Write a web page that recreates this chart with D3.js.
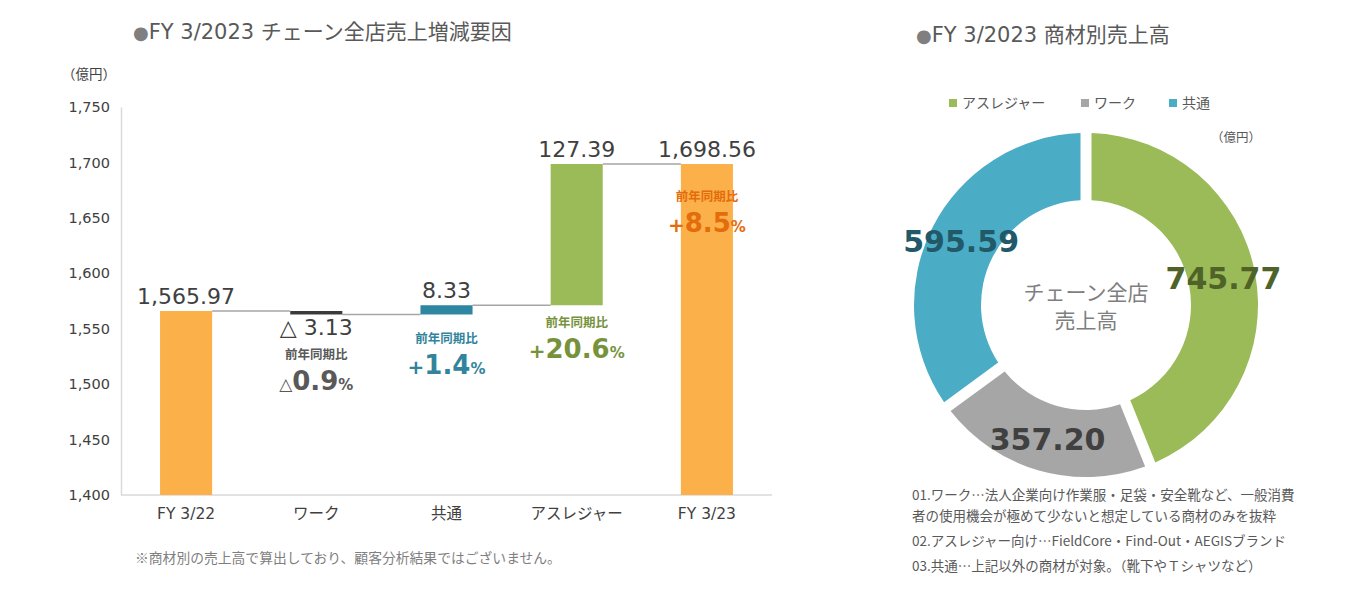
<!DOCTYPE html>
<html><head><meta charset="utf-8">
<script src="https://cdn.jsdelivr.net/npm/d3@7"></script>
<style>
body{margin:0;background:#fff;}
text{font-family:"DejaVu Sans","Noto Sans CJK JP",sans-serif;}
.jp{font-family:"Noto Sans CJK JP","Noto Sans",sans-serif;}
</style></head>
<body>
<svg id="c" width="1354" height="591"></svg>
<script>
// ---- data ----
const categories = ["FY 3/22","ワーク","共通","アスレジャー","FY 3/23"];
const changes = [1565.97, -3.13, 8.33, 127.39, 1698.56]; // first/last are totals
const valueLabels = ["1,565.97","△ 3.13","8.33","127.39","1,698.56"];
const yTicks = [1400,1450,1500,1550,1600,1650,1700,1750];
const yoySign = [null,"△","+","+","+"];
const yoyNum = [null,"0.9","1.4","20.6","8.5"];
const yoyAnchor = [null,1526,1541,1555,1669]; // value level of annotation
const donutNames = ["アスレジャー","ワーク","共通"];
const donutValues = [745.77, 357.20, 595.59];
const donutLabels = ["745.77","357.20","595.59"];
const notes = ["01.ワーク…法人企業向け作業服・足袋・安全靴など、一般消費","者の使用機会が極めて少ないと想定している商材のみを抜粋","02.アスレジャー向け…FieldCore・Find-Out・AEGISブランド","03.共通…上記以外の商材が対象。（靴下やＴシャツなど）"];

const barColors = ["#FBB04A","#3A3A3A","#2E86A0","#9BBB59","#FBB04A"];
const yoyColors = [null,"#595959","#31849B","#76933C","#E46C0A"];
const donutColors = ["#9BBB59","#A6A6A6","#4BACC6"];
const donutLabelColors = ["#4F6228","#404040","#215968"];

const svg = d3.select("#c");

// ---- waterfall ----
const y = d3.scaleLinear().domain([1400,1750]).range([495,107]);
const x = d3.scaleBand().domain(categories).range([121,772]).paddingInner(0.6).paddingOuter(0.3);

let run = 0;
const segs = categories.map((c,i)=>{
  let s,e;
  if(i===0 || i===categories.length-1){ s=1400; e=changes[i]; run=changes[i]; }
  else { s=run; e=run+changes[i]; run=e; }
  return {c,i,s,e,end:e};
});

// title
const t1 = svg.append("text").attr("x",133).attr("y",39).attr("font-size",21).attr("fill","#595959");
t1.append("tspan").attr("fill","#7F7F7F").attr("font-size",18).text("●");
t1.append("tspan").text("FY 3/2023 ");
t1.append("tspan").attr("class","jp").attr("font-size",21).text("チェーン全店売上増減要因");

svg.append("text").attr("class","jp").attr("x",62).attr("y",79).attr("font-size",13.5).attr("fill","#404040").text("（億円）");

// axes
const yAxis = d3.axisLeft(y).tickValues(yTicks).tickFormat(d3.format(",")).tickSize(0).tickPadding(11);
const gy = svg.append("g").attr("transform","translate(121,0)").call(yAxis);
gy.select(".domain").attr("stroke","#D9D9D9").attr("stroke-width",1.5);
gy.selectAll("text").attr("font-size",14.5).attr("fill","#404040").attr("font-family","'DejaVu Sans',sans-serif");

const xAxis = d3.axisBottom(x).tickSize(0).tickPadding(13);
const gx = svg.append("g").attr("transform","translate(0,495)").call(xAxis);
gx.select(".domain").attr("stroke","#D9D9D9").attr("stroke-width",1.5).attr("d","M121,0H772");
gx.selectAll("text").attr("font-size",15.5).attr("fill","#404040").attr("font-family","'Noto Sans CJK JP',sans-serif");

// connectors
for(let i=0;i<segs.length-1;i++){
  svg.append("line")
    .attr("x1",x(segs[i].c)+x.bandwidth()).attr("x2",x(segs[i+1].c))
    .attr("y1",y(segs[i].end)).attr("y2",y(segs[i].end))
    .attr("stroke","#A6A6A6").attr("stroke-width",1.5);
}
// bars
svg.selectAll("rect.bar").data(segs).join("rect").attr("class","bar")
  .attr("x",d=>x(d.c)).attr("width",x.bandwidth())
  .attr("y",d=>y(Math.max(d.s,d.e))).attr("height",d=>Math.abs(y(d.s)-y(d.e)))
  .attr("fill",(d,i)=>barColors[i]);

// value labels
svg.selectAll("text.vl").data(segs).join("text").attr("class","vl")
  .attr("x",d=>x(d.c)+x.bandwidth()/2)
  .attr("y",d=> d.e>=d.s ? y(d.e)-7 : y(d.e)+21)
  .attr("text-anchor","middle").attr("font-size",22).attr("fill","#404040")
  .attr("font-family","'DejaVu Sans',sans-serif")
  .text((d,i)=>valueLabels[i]);

// yoy annotations
segs.forEach((d,i)=>{
  if(yoyAnchor[i]==null) return;
  const cx = x(d.c)+x.bandwidth()/2, yy = y(yoyAnchor[i]);
  svg.append("text").attr("class","jp").attr("x",cx).attr("y",yy+4).attr("text-anchor","middle")
    .attr("font-size",12.5).attr("font-weight","bold").attr("fill",yoyColors[i]).text("前年同期比");
  const t = svg.append("text").attr("x",cx).attr("y",yy+35).attr("text-anchor","middle")
    .attr("font-weight","bold").attr("fill",yoyColors[i])
    .attr("font-family","'DejaVu Sans',sans-serif");
  t.append("tspan").attr("font-size",yoySign[i]==="△"?17:20).attr("font-weight",yoySign[i]==="△"?"normal":"bold").text(yoySign[i]);
  t.append("tspan").attr("font-size",26).text(yoyNum[i]);
  t.append("tspan").attr("font-size",15).text("%");
});

svg.append("text").attr("class","jp").attr("x",135).attr("y",563).attr("font-size",13.8).attr("fill","#7F7F7F")
  .text("※商材別の売上高で算出しており、顧客分析結果ではございません。");

// ---- donut ----
const t2 = svg.append("text").attr("x",916).attr("y",42).attr("font-size",21).attr("fill","#595959");
t2.append("tspan").attr("fill","#7F7F7F").attr("font-size",18).text("●");
t2.append("tspan").text("FY 3/2023 ");
t2.append("tspan").attr("class","jp").attr("font-size",21).text("商材別売上高");

// legend
const legX = [949,1081,1169];
donutNames.forEach((n,i)=>{
  svg.append("rect").attr("x",legX[i]).attr("y",99).attr("width",8).attr("height",8).attr("fill",donutColors[i]);
  svg.append("text").attr("class","jp").attr("x",legX[i]+13).attr("y",108).attr("font-size",14).attr("fill","#595959").text(n);
});
svg.append("text").attr("class","jp").attr("x",1211).attr("y",142).attr("font-size",12.5).attr("fill","#595959").text("（億円）");

const cx = 1086, cy = 305, R = 172, r0 = 105;
const pie = d3.pie().sort(null).value(d=>d)(donutValues);
const arc = d3.arc().innerRadius(r0).outerRadius(R).padAngle(11/R).padRadius(R);
const g = svg.append("g").attr("transform",`translate(${cx},${cy})`);
g.selectAll("path").data(pie).join("path").attr("d",arc).attr("fill",(d,i)=>donutColors[i]);
const labArc = d3.arc().innerRadius(140).outerRadius(140);
g.selectAll("text.dl").data(pie).join("text").attr("class","dl")
  .attr("transform",d=>{const c=labArc.centroid(d);return `translate(${c[0]},${c[1]})`;})
  .attr("text-anchor","middle").attr("dy","0.35em")
  .attr("font-size",30).attr("font-weight","bold").attr("fill",(d,i)=>donutLabelColors[i])
  .attr("font-family","'DejaVu Sans',sans-serif")
  .text((d,i)=>donutLabels[i]);
g.append("text").attr("class","jp").attr("y",-5).attr("text-anchor","middle").attr("font-size",21).attr("fill","#7F7F7F").text("チェーン全店");
g.append("text").attr("class","jp").attr("y",23).attr("text-anchor","middle").attr("font-size",21).attr("fill","#7F7F7F").text("売上高");

notes.forEach((n,i)=>{
  svg.append("text").attr("class","jp").attr("x",912).attr("y",[500,521,546,571][i]).attr("font-size",13.5).attr("fill","#595959").text(n);
});
</script>
</body></html>
